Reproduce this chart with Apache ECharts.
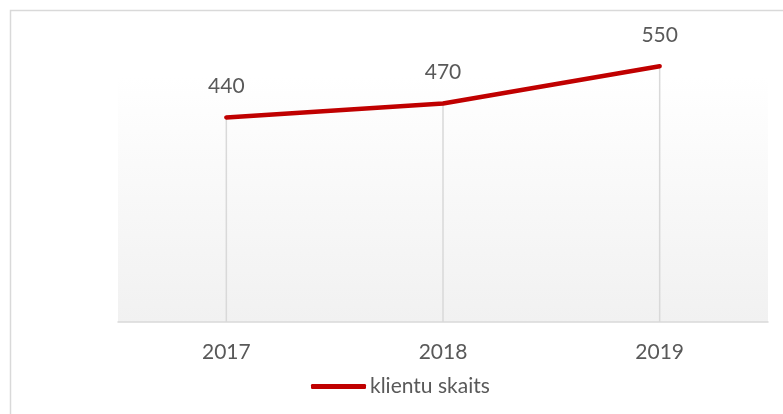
<!DOCTYPE html>
<html>
<head>
<meta charset="utf-8">
<script src="https://cdn.jsdelivr.net/npm/echarts@6/dist/echarts.min.js"></script>
<style>
  html, body { margin: 0; padding: 0; background: #fff; }
  #chart { width: 783px; height: 414px; }
</style>
</head>
<body>
<div id="chart"></div>
<script>
// data
const years = ['2017', '2018', '2019'];
const clients = [440, 470, 550];
const seriesName = 'klientu skaits';

const textColor = '#595959';
const font = 'Lato, "Open Sans", sans-serif';

const chart = echarts.init(document.getElementById('chart'));

chart.setOption({
    backgroundColor: '#fff',
    animation: false,
    textStyle: { fontFamily: font },
    graphic: [{
        type: 'rect',
        shape: { x: 10.5, y: 10.5, width: 800, height: 420 },
        style: { fill: 'none', stroke: '#d9d9d9', lineWidth: 1.5 },
        silent: true
    }],
    grid: {
        left: 118, right: 15, top: 43, bottom: 92,
        show: true,
        borderWidth: 0,
        backgroundColor: new echarts.graphic.LinearGradient(0, 0, 0, 1, [
            { offset: 0, color: '#ffffff' },
            { offset: 0.12, color: '#ffffff' },
            { offset: 1, color: '#f1f1f1' }
        ])
    },
    legend: {
        data: [{ name: seriesName, icon: 'roundRect' }],
        left: 311, top: 376,
        padding: 0,
        itemWidth: 55, itemHeight: 5, itemGap: 5,
        textStyle: { color: textColor, fontSize: 21, fontFamily: font, padding: [0, 0, 0, -1] }
    },
    xAxis: {
        type: 'category',
        data: years,
        axisLine: { lineStyle: { color: '#d9d9d9', width: 1.5 } },
        axisTick: { show: false },
        axisLabel: { color: textColor, fontSize: 21, margin: 20, fontFamily: font }
    },
    yAxis: {
        type: 'value',
        min: 0, max: 600,
        show: false,
        splitLine: { show: false }
    },
    series: [
        {
            // vertical drop lines from each point to the axis
            name: 'drop',
            type: 'bar',
            data: clients,
            barWidth: 1.5,
            itemStyle: { color: '#d9d9d9' },
            silent: true,
            z: 1
        },
        {
            name: seriesName,
            type: 'line',
            data: clients,
            symbol: 'circle',
            symbolSize: 0,
            showSymbol: true,
            itemStyle: { color: '#c00000' },
            lineStyle: { color: '#c00000', width: 4.5, cap: 'round' },
            label: {
                show: true,
                position: 'top',
                distance: 21,
                color: textColor,
                fontSize: 21,
                fontFamily: font
            },
            z: 3
        }
    ]
});
</script>
</body>
</html>
